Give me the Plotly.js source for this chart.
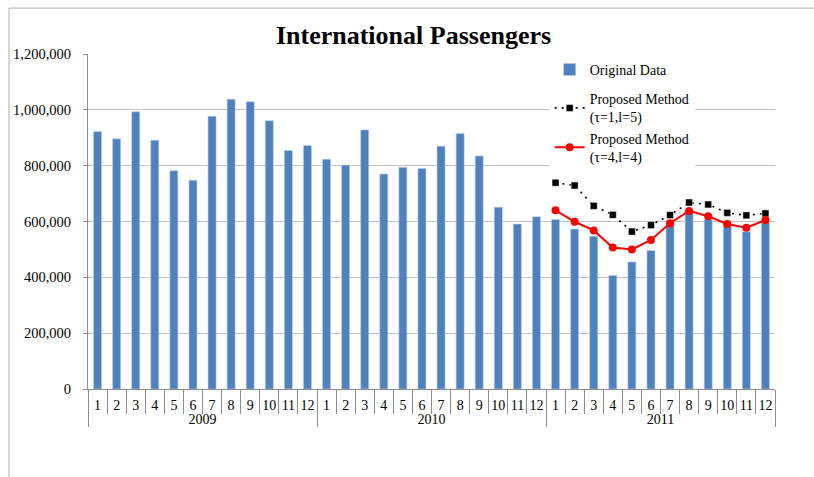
<!DOCTYPE html>
<html>
<head>
<meta charset="utf-8">
<script src="https://cdn.plot.ly/plotly-3.0.1.min.js"></script>
<style>
html,body{margin:0;padding:0;background:#fff;}
#chart{width:814px;height:477px;}
</style>
</head>
<body>
<div id="chart"></div>
<script>
const years = ['2009','2010','2011'];
const months = ['1','2','3','4','5','6','7','8','9','10','11','12'];
const original2009 = [922000, 896000, 993000, 891000, 782000, 748000, 977000, 1038000, 1029000, 961000, 854000, 872000];
const original2010 = [823000, 802000, 928000, 770000, 794000, 790000, 870000, 915000, 835000, 651000, 591000, 617000];
const original2011 = [607000, 573000, 547000, 407000, 455000, 496000, 587000, 641000, 607000, 590000, 563000, 602000];
const method1_2011 = [739000, 729000, 656000, 624000, 564000, 587000, 623000, 668000, 661000, 631000, 622000, 629000];
const method2_2011 = [640000, 599000, 568000, 507000, 500000, 534000, 594000, 638000, 619000, 591000, 578000, 605000];
const yTicks = [0, 200000, 400000, 600000, 800000, 1000000, 1200000];

const xYears = [], xMonths = [];
years.forEach(y => months.forEach(m => { xYears.push(y); xMonths.push(m); }));
const originalAll = original2009.concat(original2010, original2011);
const x2011 = [months.map(() => '2011'), months.slice()];

const serif = 'Liberation Serif, Times New Roman, serif';

const traces = [
  {
    type: 'bar', name: 'Original Data',
    x: [xYears, xMonths], y: originalAll,
    marker: {color: '#4f81bd', line: {color: '#b9cde5', width: 0.6}},
    legendgroup: 'a'
  },
  {
    type: 'scatter', mode: 'lines+markers', name: 'Proposed Method<br>(τ=1,l=5)',
    x: x2011, y: method1_2011,
    line: {color: '#000000', width: 1.6, dash: '2px,5px'},
    marker: {symbol: 'square', size: 7, color: '#000000', line: {color: '#ffffff', width: 0.5}},
    legendgroup: 'b'
  },
  {
    type: 'scatter', mode: 'lines+markers', name: 'Proposed Method<br>(τ=4,l=4)',
    x: x2011, y: method2_2011,
    line: {color: '#ff0000', width: 2},
    marker: {symbol: 'circle', size: 8, color: '#ff0000'},
    legendgroup: 'b'
  }
];

const layout = {
  width: 814, height: 477,
  margin: {l: 88, r: 39, t: 54, b: 88},
  paper_bgcolor: '#ffffff', plot_bgcolor: '#ffffff',
  font: {family: serif, size: 14, color: '#000'},
  title: {text: '<b>International Passengers</b>', font: {family: serif, size: 26, color: '#000'},
          x: 0.508, xanchor: 'center', xref: 'container', y: 0.927, yanchor: 'middle', yref: 'container', automargin: false},
  bargap: 0.58,
  showlegend: true,
  legend: {x: 0.672, xanchor: 'left', y: 1.0, yanchor: 'top', bgcolor: '#ffffff',
           font: {family: serif, size: 14}, traceorder: 'grouped', tracegroupgap: 8},
  xaxis: {
    type: 'multicategory', automargin: false, tickangle: 0,
    range: [-0.5, 35.5], autorange: false,
    showline: true, linecolor: '#8c8c8c', linewidth: 1,
    ticks: 'outside', ticklen: 24, tickcolor: '#8c8c8c', ticklabelstandoff: 3,
    showdividers: true, dividercolor: '#8c8c8c', dividerwidth: 1,
    tickfont: {family: serif, size: 14},
    showgrid: false
  },
  yaxis: {
    automargin: false,
    range: [0, 1200000], tickvals: yTicks, tickformat: ',',
    showline: true, linecolor: '#8c8c8c', linewidth: 1,
    ticks: 'outside', ticklen: 4, tickcolor: '#8c8c8c', ticklabelstandoff: 9,
    showgrid: true, gridcolor: '#c3c3c3', gridwidth: 1,
    zeroline: false,
    tickfont: {family: serif, size: 14.5}
  },
  shapes: [
    {type: 'line', xref: 'paper', yref: 'paper', x0: -0.115, x1: 1.06, y0: 1.137, y1: 1.137, line: {color: '#b0b0b0', width: 1}},
    {type: 'line', xref: 'paper', yref: 'paper', x0: -0.115, x1: -0.115, y0: 1.137, y1: -0.27, line: {color: '#b0b0b0', width: 1}}
  ]
};

Plotly.newPlot('chart', traces, layout, {displayModeBar: false, staticPlot: true});
</script>
</body>
</html>
